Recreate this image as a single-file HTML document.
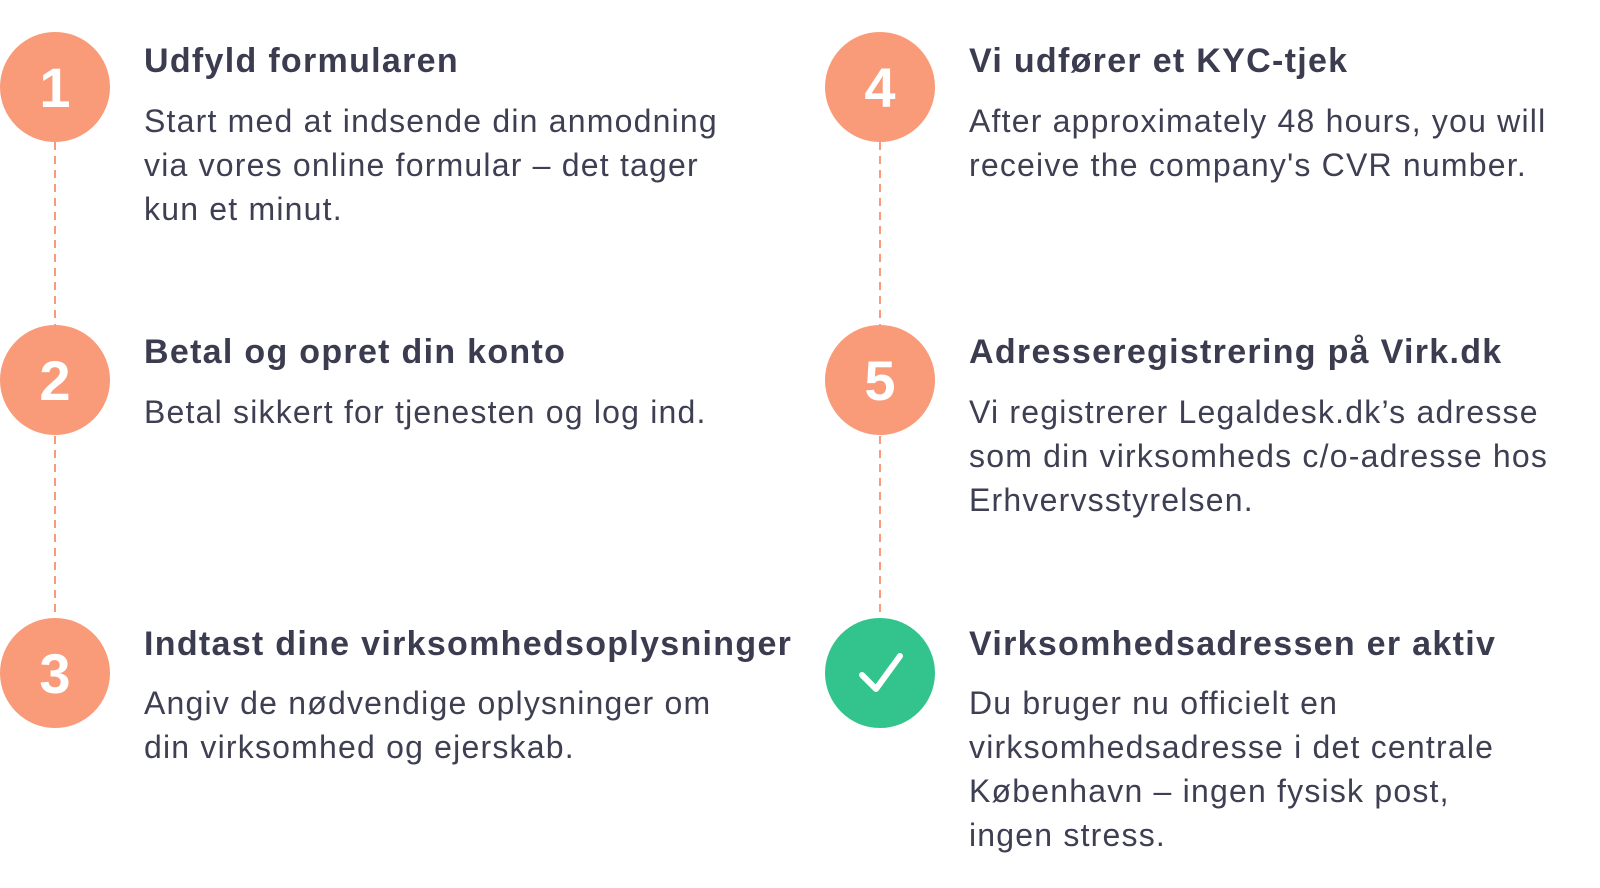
<!DOCTYPE html>
<html><head><meta charset="utf-8"><style>
body{margin:0;width:1600px;height:888px;background:#fff;position:relative;overflow:hidden;font-family:"Liberation Sans",sans-serif;color:#3b3c50}
.t{position:absolute;font-weight:bold;font-size:34px;line-height:40px;letter-spacing:1.3px;white-space:nowrap}
.b{position:absolute;font-size:32px;line-height:44px;letter-spacing:1.2px;white-space:nowrap;color:#3e3f52}
svg{position:absolute;left:0;top:0}
</style></head><body>
<svg width="1600" height="888">
<g stroke="#f99a78" stroke-width="2" stroke-dasharray="8 6">
<line x1="55" y1="142" x2="55" y2="326"/><line x1="55" y1="436" x2="55" y2="619"/>
<line x1="880" y1="142" x2="880" y2="326"/><line x1="880" y1="436" x2="880" y2="619"/>
</g>
<g fill="#f99a78">
<circle cx="55" cy="87" r="55"/><circle cx="55" cy="380" r="55"/><circle cx="55" cy="673" r="55"/>
<circle cx="880" cy="87" r="55"/><circle cx="880" cy="380" r="55"/>
</g>
<circle cx="880" cy="673" r="55" fill="#33c48d"/>
<polyline points="862,675 876,689 900,656" fill="none" stroke="#fff" stroke-width="6" stroke-linecap="round" stroke-linejoin="round"/>
<g fill="#fff" font-family="Liberation Sans,sans-serif" font-size="56" font-weight="bold" text-anchor="middle">
<text x="55" y="107">1</text><text x="55" y="400">2</text><text x="55" y="693">3</text>
<text x="880" y="107">4</text><text x="880" y="400">5</text>
</g>
</svg>
<div class="t" style="left:144px;top:41px">Udfyld formularen</div>
<div class="b" style="left:144px;top:99px">Start med at indsende din anmodning<br>via vores online formular – det tager<br>kun et minut.</div>
<div class="t" style="left:144px;top:332px">Betal og opret din konto</div>
<div class="b" style="left:144px;top:390px">Betal sikkert for tjenesten og log ind.</div>
<div class="t" style="left:144px;top:624px">Indtast dine virksomhedsoplysninger</div>
<div class="b" style="left:144px;top:681px">Angiv de nødvendige oplysninger om<br>din virksomhed og ejerskab.</div>
<div class="t" style="left:969px;top:41px">Vi udfører et KYC-tjek</div>
<div class="b" style="left:969px;top:99px">After approximately 48 hours, you will<br>receive the company's CVR number.</div>
<div class="t" style="left:969px;top:332px">Adresseregistrering på Virk.dk</div>
<div class="b" style="left:969px;top:390px">Vi registrerer Legaldesk.dk’s adresse<br>som din virksomheds c/o-adresse hos<br>Erhvervsstyrelsen.</div>
<div class="t" style="left:969px;top:624px">Virksomhedsadressen er aktiv</div>
<div class="b" style="left:969px;top:681px">Du bruger nu officielt en<br>virksomhedsadresse i det centrale<br>København – ingen fysisk post,<br>ingen stress.</div>
</body></html>
